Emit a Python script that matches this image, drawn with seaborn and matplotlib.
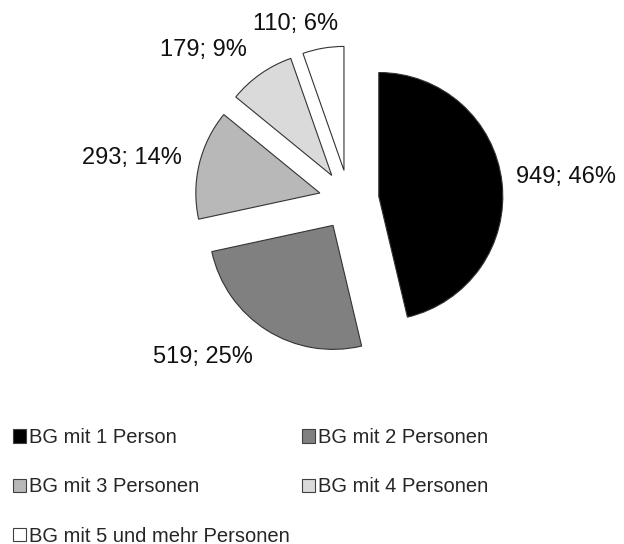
import matplotlib
matplotlib.use("Agg")
import matplotlib.pyplot as plt
import matplotlib.patches as mpatches
import numpy as np
import seaborn as sns

# Data
categories = ["BG mit 1 Person", "BG mit 2 Personen", "BG mit 3 Personen",
              "BG mit 4 Personen", "BG mit 5 und mehr Personen"]
counts = [949, 519, 293, 179, 110]
percents = [46, 25, 14, 9, 6]
colors = ["#000000", "#808080", "#b8b8b8", "#dadada", "#ffffff"]

sns.set_theme(style="white")
plt.rcParams["font.family"] = ["Liberation Sans", "DejaVu Sans"]

fig = plt.figure(figsize=(6.24, 5.44), dpi=100)
ax = fig.add_axes([0, 0, 1, 1])

radius = 124
wedges, _ = ax.pie(counts, colors=colors, startangle=90, counterclock=False,
                   radius=radius, explode=[30] * len(counts),
                   wedgeprops=dict(edgecolor="#333333", linewidth=0.8))

# axes in pixel units, pie centre at (0, 0)
ax.set_xlim(-349, 275)
ax.set_ylim(-344, 200)
ax.set_aspect("equal")
ax.axis("off")

# label placement (angle in degrees, distance from pie centre)
label_pos = [(6, 218), (227, 214), (169, 221), (134, 209), (107, 184)]
for (ang, dist), c, p in zip(label_pos, counts, percents):
    a = np.deg2rad(ang)
    ax.text(dist * np.cos(a), dist * np.sin(a), f"{c}; {p}%",
            ha="center", va="center", fontsize=17, color="#111111")

# legend in row-major order
handles = [mpatches.Patch(facecolor=col, edgecolor="#404040", linewidth=0.8, label=lab)
           for col, lab in zip(colors, categories)]
order = [0, 2, 4, 1, 3]
fig.legend([handles[i] for i in order], [categories[i] for i in order],
           ncol=2, loc="upper left", bbox_to_anchor=(0.021, 0.213),
           frameon=False, fontsize=14.5, handlelength=0.65, handleheight=0.65,
           handletextpad=0.15, labelspacing=1.5, columnspacing=0.6,
           borderaxespad=0, borderpad=0)

fig.savefig("out.png", dpi=100)
plt.close()
